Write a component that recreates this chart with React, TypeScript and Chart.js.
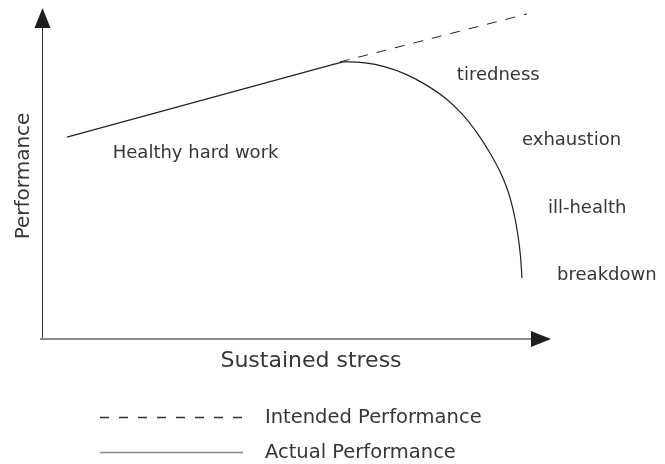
import React, { useEffect, useRef } from "react";
import { Chart, registerables } from "chart.js";

Chart.register(...registerables);

// Data (x = sustained stress, y = performance, arbitrary 0-100 units)
const intendedX = [58.5, 95.3];
const intendedY = [83.7, 98.2];
const healthyX = [4.9, 57.6];
const healthyY = [61.0, 83.1];
const declineX = [57.6, 59.5, 63.5, 67.4, 71.3, 75.2, 79.2, 82.5, 85.5, 88.0, 90.0, 91.6, 92.7, 93.5, 94.0, 94.3];
const declineY = [83.1, 83.7, 83.4, 82.2, 80.1, 77.0, 72.8, 68.0, 62.2, 56.2, 50.5, 44.4, 38.1, 31.4, 25.1, 18.4];

const annotationLabels = ["Healthy hard work", "tiredness", "exhaustion", "ill-health", "breakdown"];
const annotationX = [13.9, 81.5, 94.3, 99.4, 101.2];
const annotationY = [56.2, 79.8, 60.1, 39.6, 19.3];

const xAxisTitle = "Sustained stress";
const yAxisTitle = "Performance";
const legendLabels = ["Intended Performance", "Actual Performance"];

const FONT = '"DejaVu Sans", sans-serif';
const TEXT = "#363636";

const toPoints = (xs: number[], ys: number[]) => xs.map((x, i) => ({ x, y: ys[i] }));

const diagramPlugin = {
  id: "diagram",
  afterDraw(chart: any) {
    const { ctx, chartArea, scales } = chart;
    const xs = scales.x;
    const ys = scales.y;
    const L = chartArea.left;
    const B = chartArea.bottom;
    const R = chartArea.right;
    const T = chartArea.top;
    ctx.save();

    // y axis
    ctx.strokeStyle = "#333";
    ctx.lineWidth = 1;
    ctx.beginPath();
    ctx.moveTo(L + 0.5, B);
    ctx.lineTo(L + 0.5, T + 18);
    ctx.stroke();
    ctx.fillStyle = "#1e1e1e";
    ctx.beginPath();
    ctx.moveTo(L + 0.5, T);
    ctx.lineTo(L + 8.5, T + 20);
    ctx.lineTo(L - 7.5, T + 20);
    ctx.closePath();
    ctx.fill();

    // x axis
    ctx.strokeStyle = "#8a8a8a";
    ctx.lineWidth = 2;
    ctx.beginPath();
    ctx.moveTo(L - 2, B);
    ctx.lineTo(R - 18, B);
    ctx.stroke();
    ctx.fillStyle = "#1e1e1e";
    ctx.beginPath();
    ctx.moveTo(R, B);
    ctx.lineTo(R - 20, B - 8);
    ctx.lineTo(R - 20, B + 8);
    ctx.closePath();
    ctx.fill();

    // axis titles
    ctx.fillStyle = TEXT;
    ctx.font = `22px ${FONT}`;
    ctx.textAlign = "center";
    ctx.textBaseline = "middle";
    ctx.fillText(xAxisTitle, 311, B + 22);

    ctx.save();
    ctx.translate(24, 176);
    ctx.rotate(-Math.PI / 2);
    ctx.font = `20px ${FONT}`;
    ctx.fillText(yAxisTitle, 0, 0);
    ctx.restore();

    // annotations
    ctx.font = `18px ${FONT}`;
    ctx.textAlign = "left";
    ctx.textBaseline = "middle";
    annotationLabels.forEach((t, i) => {
      ctx.fillText(t, xs.getPixelForValue(annotationX[i]), ys.getPixelForValue(annotationY[i]));
    });

    // legend
    const lx0 = 100;
    const lx1 = 243;
    const rows = [417.5, 452.5];
    ctx.strokeStyle = "#333";
    ctx.lineWidth = 1.3;
    ctx.setLineDash([9, 10]);
    ctx.beginPath();
    ctx.moveTo(lx0, rows[0]);
    ctx.lineTo(lx1, rows[0]);
    ctx.stroke();
    ctx.setLineDash([]);
    ctx.strokeStyle = "#888";
    ctx.lineWidth = 1.6;
    ctx.beginPath();
    ctx.moveTo(lx0, rows[1]);
    ctx.lineTo(lx1, rows[1]);
    ctx.stroke();
    ctx.font = `19.5px ${FONT}`;
    ctx.fillStyle = TEXT;
    legendLabels.forEach((t, i) => ctx.fillText(t, 265, rows[i]));

    ctx.restore();
  },
};

export default function App() {
  const ref = useRef<HTMLCanvasElement | null>(null);
  useEffect(() => {
    if (!ref.current) return;
    const chart = new Chart(ref.current, {
      type: "scatter",
      data: {
        datasets: [
          {
            label: legendLabels[0],
            data: toPoints(intendedX, intendedY),
            showLine: true,
            borderColor: "#222",
            borderWidth: 1,
            borderDash: [10, 9],
            pointRadius: 0,
          },
          {
            label: legendLabels[1],
            data: toPoints(healthyX, healthyY),
            showLine: true,
            borderColor: "#222",
            borderWidth: 1.2,
            pointRadius: 0,
          },
          {
            label: legendLabels[1],
            data: toPoints(declineX, declineY),
            showLine: true,
            borderColor: "#222",
            borderWidth: 1.2,
            pointRadius: 0,
            tension: 0.35,
          },
        ],
      },
      options: {
        responsive: false,
        animation: false,
        layout: { padding: { left: 42, top: 8, right: 114, bottom: 125 } },
        scales: {
          x: { type: "linear", min: 0, max: 100, display: false },
          y: { type: "linear", min: 0, max: 100, display: false },
        },
        plugins: { legend: { display: false }, tooltip: { enabled: false } },
      },
      plugins: [diagramPlugin],
    });
    return () => chart.destroy();
  }, []);
  return (
    <div style={{ position: "fixed", left: 0, top: 0, width: 665, height: 464, background: "#fff" }}>
      <canvas ref={ref} width={665} height={464} />
    </div>
  );
}
